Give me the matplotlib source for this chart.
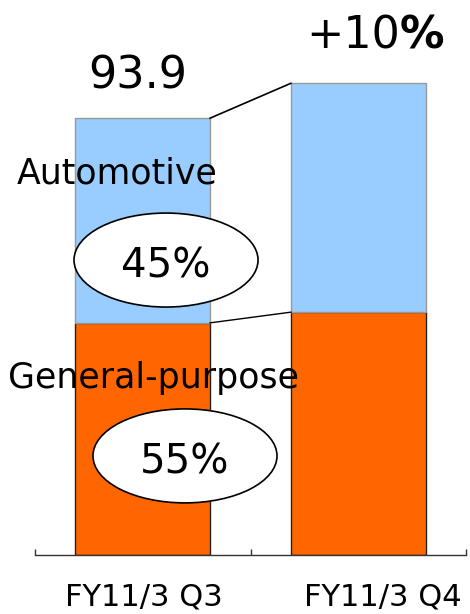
import matplotlib
matplotlib.use('Agg')
import matplotlib.pyplot as plt
from matplotlib.patches import Ellipse

# Dados
periodos = ['FY11/3 Q3', 'FY11/3 Q4']
general = [49.9, 52.2]
automotive = [44.0, 49.2]
total_q3 = '93.9'
crescimento = '+10'
share_auto = '45%'
share_gen = '55%'

cor_gen = '#FF6600'
cor_auto = '#99CCFF'

fig = plt.figure(figsize=(4.70, 6.14), dpi=100)
ax = fig.add_axes([35 / 470, 1 - 555 / 614, 431 / 470, (555 - 20) / 614])

x = [0.5, 1.5]
w = 0.625
ax.bar(x, general, width=w, color=cor_gen, edgecolor='#222222', linewidth=1.0)
ax.bar(x, automotive, width=w, bottom=general, color=cor_auto, edgecolor='#999999', linewidth=1.0)

# Linhas de ligação entre as barras
tot = [g + a for g, a in zip(general, automotive)]
ax.plot([x[0] + w / 2, x[1] - w / 2], [tot[0], tot[1]], color='black', lw=1.2)
ax.plot([x[0] + w / 2, x[1] - w / 2], [general[0], general[1]], color='black', lw=1.0)

ax.set_xlim(0, 2)
ax.set_ylim(0, 115)

for s in ['top', 'right', 'left']:
    ax.spines[s].set_visible(False)
ax.spines['bottom'].set_color('#333333')
ax.spines['bottom'].set_linewidth(1.0)
ax.set_yticks([])
ax.set_xticks([0, 1, 2])
ax.set_xticklabels([])
ax.tick_params(axis='x', direction='in', length=4, width=1.0, color='#333333')

# Rótulos do eixo
ax.text(0.503, -10.9, periodos[0], ha='center', va='baseline', fontsize=22)
ax.text(1.615, -10.9, periodos[1], ha='center', va='baseline', fontsize=22)

# Total e crescimento
ax.text(0.478, 100.3, total_q3, ha='center', va='baseline', fontsize=32)
ax.text(1.694, 108.9, crescimento, ha='right', va='baseline', fontsize=32)
ax.text(1.694, 108.9, '%', ha='left', va='baseline', fontsize=32, fontweight='bold')

# Segmentos
ax.text(0.383, 79.9, 'Automotive', ha='center', va='baseline', fontsize=25)
ax.text(0.552, 35.9, 'General-purpose', ha='center', va='baseline', fontsize=25)

ax.add_patch(Ellipse((0.608, 63.4), 0.854, 20.2, facecolor='white', edgecolor='black', lw=1.2, zorder=3))
ax.text(0.608, 59.7, share_auto, ha='center', va='baseline', fontsize=29, zorder=4)
ax.add_patch(Ellipse((0.696, 21.3), 0.854, 20.2, facecolor='white', edgecolor='black', lw=1.2, zorder=3))
ax.text(0.696, 17.6, share_gen, ha='center', va='baseline', fontsize=29, zorder=4)

fig.savefig('out.png', dpi=100)
